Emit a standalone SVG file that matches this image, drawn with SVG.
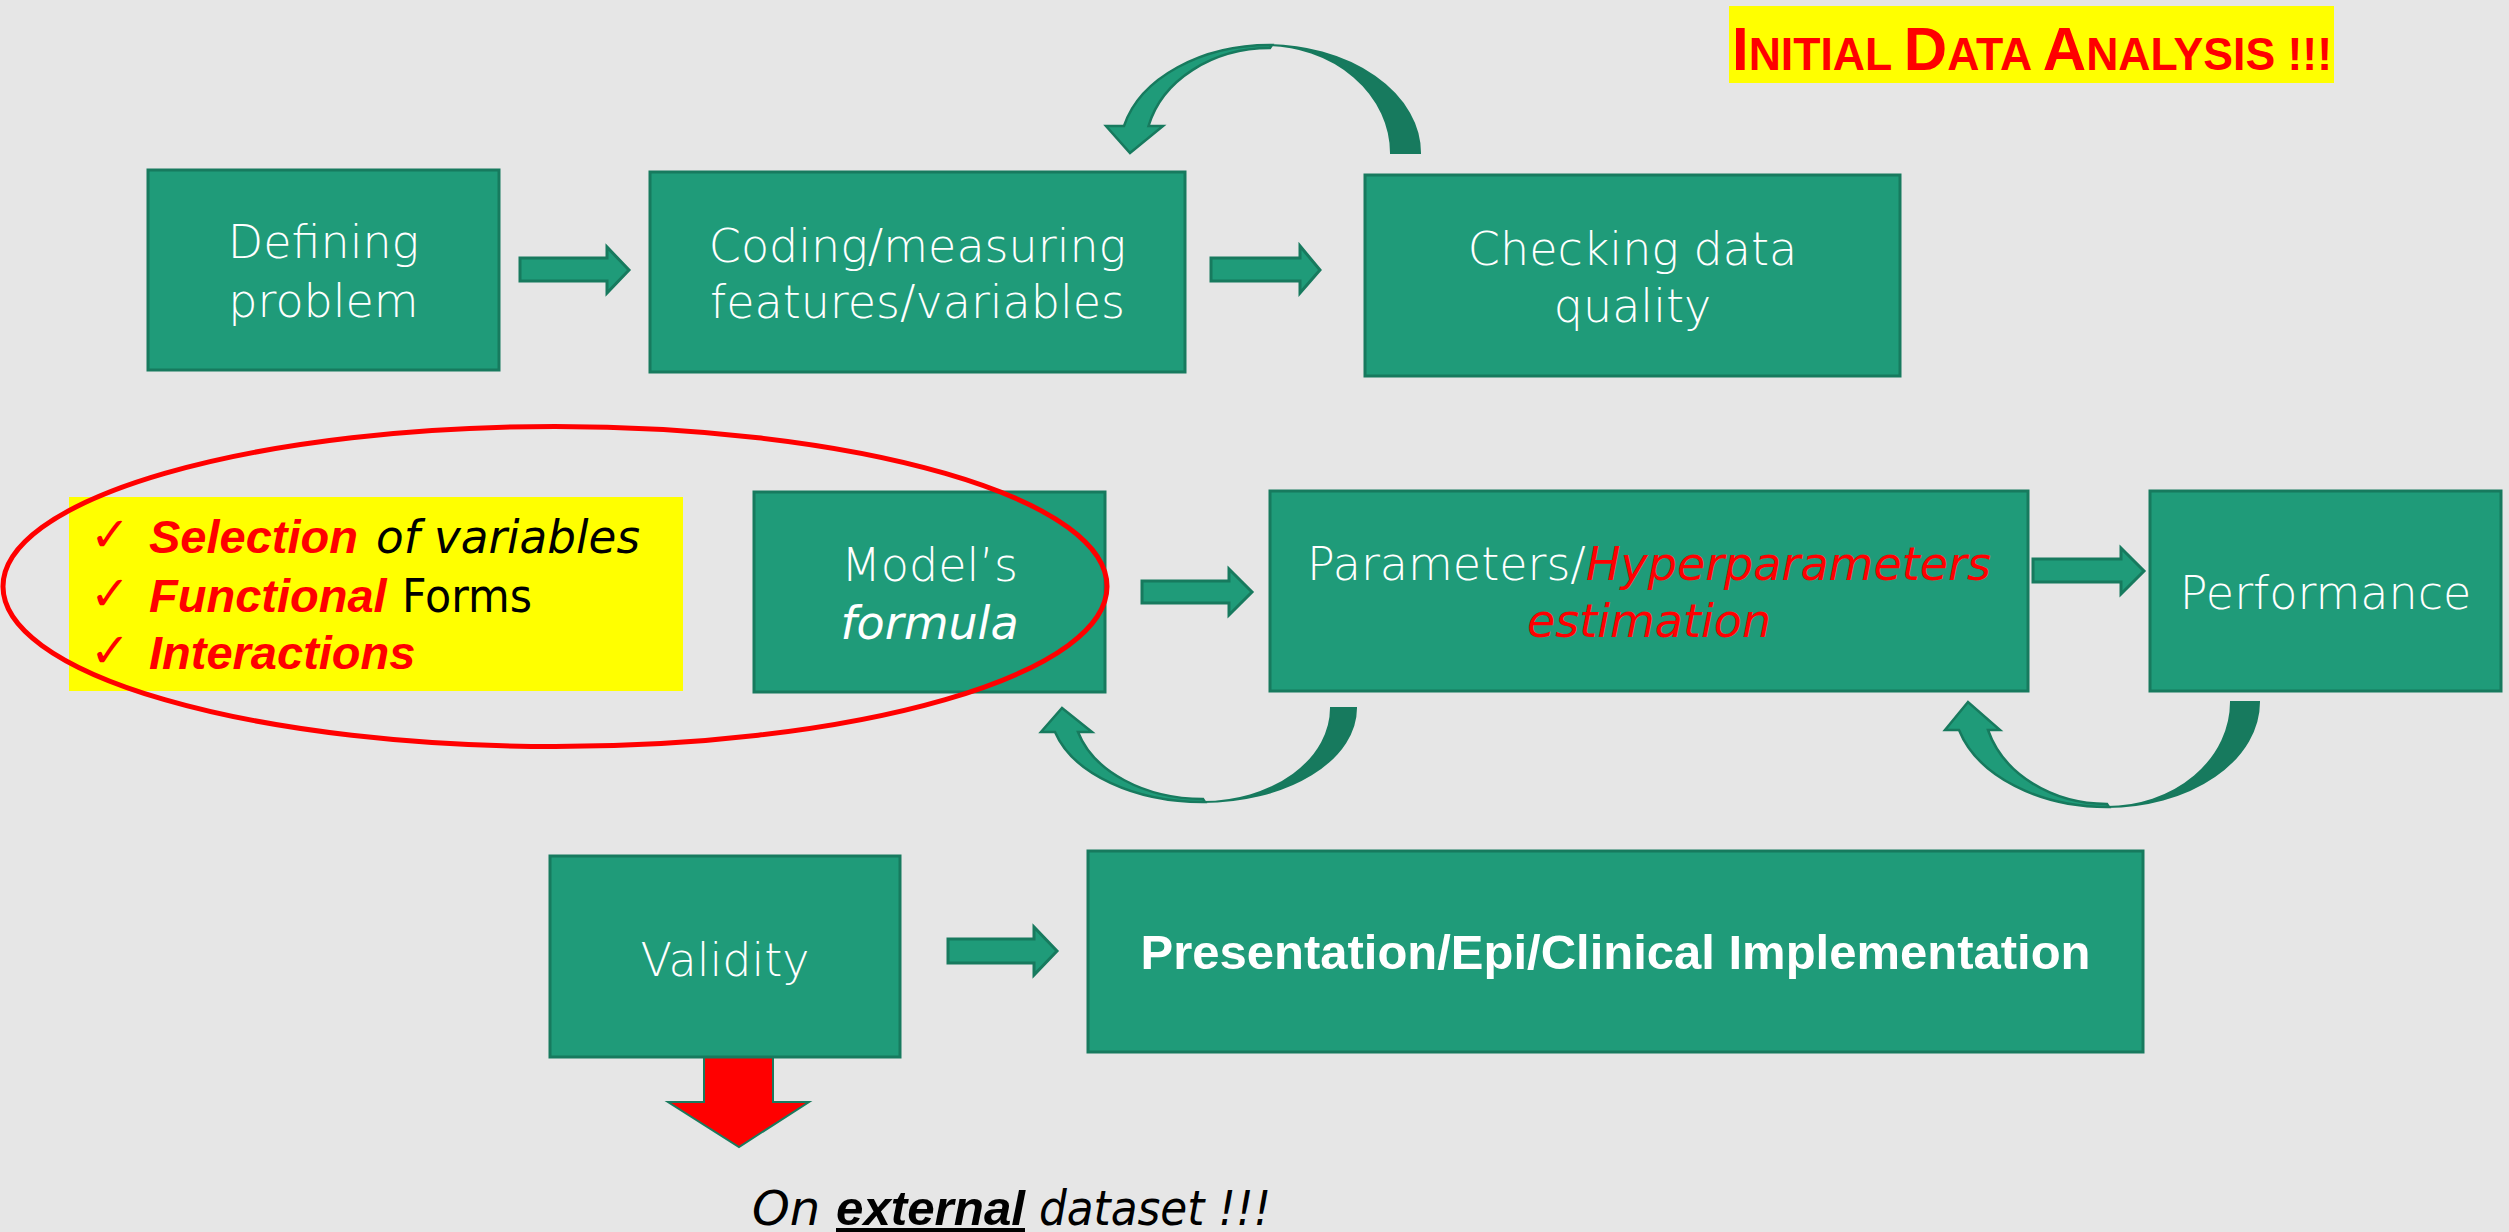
<svg xmlns="http://www.w3.org/2000/svg" width="2509" height="1232" viewBox="0 0 2509 1232">
  <defs>
    <style>
      .box{fill:#1f9b79;stroke:#177a5e;stroke-width:3}
      .blk{fill:#1f9b79;stroke:#177a5e;stroke-width:3;stroke-linejoin:miter}
      .dark{fill:#177a5e;stroke:#177a5e;stroke-width:2}
      .light{fill:#1f9b79;stroke:#177a5e;stroke-width:2.5;stroke-linejoin:miter}
      .lbl{font-family:"DejaVu Sans","Liberation Sans",sans-serif;font-size:46px;font-weight:300;fill:#ffffff;text-anchor:middle}
      .heavy{font-family:"Liberation Sans",Arial,sans-serif;font-weight:bold;font-size:48.5px}
      .hot{fill:#ff0000;font-style:italic}
      .li{font-family:"DejaVu Sans","Liberation Sans",sans-serif;font-size:47px;fill:#000000}
      .lb{font-family:"Liberation Sans",Arial,sans-serif;font-weight:bold;font-style:italic;fill:#ff0000}
      .tick{font-family:"DejaVu Sans",sans-serif;font-size:48px;fill:#ff0000}
    </style>
  </defs>

  <!-- slide background -->
  <rect x="0" y="0" width="2509" height="1232" fill="#e6e6e6"/>

  <!-- title banner -->
  <g id="title">
    <rect x="1729" y="6" width="605" height="77" fill="#ffff00"/>
    <text x="1732" y="70" textLength="600" lengthAdjust="spacingAndGlyphs" font-family="'Liberation Sans',Arial,sans-serif" font-weight="bold" font-size="46" fill="#ff0000"><tspan font-size="62">I</tspan>NITIAL <tspan font-size="62">D</tspan>ATA <tspan font-size="62">A</tspan>NALYSIS !!!</text>
  </g>

  <!-- checklist of model-formula choices -->
  <g id="checklist">
    <rect x="69" y="497" width="614" height="194" fill="#ffff00"/>
    <text class="tick" x="90" y="551">✓</text>
    <text class="tick" x="90" y="610">✓</text>
    <text class="tick" x="90" y="667">✓</text>
    <text class="li lb" x="149" y="553">Selection</text>
    <text class="li" x="376" y="553" font-style="italic" textLength="264" lengthAdjust="spacingAndGlyphs">of variables</text>
    <text class="li lb" x="149" y="612">Functional</text>
    <text class="li" x="402" y="612" textLength="130" lengthAdjust="spacingAndGlyphs">Forms</text>
    <text class="li lb" x="149" y="669">Interactions</text>
  </g>

  <!-- connectors -->
  <g id="connectors">
    <!-- straight block arrows -->
    <polygon class="blk" points="520,258 607,258 607,247 629,270 607,293 607,281 520,281"/>
    <polygon class="blk" points="1211,258 1300,258 1300,246 1320,270 1300,293 1300,281 1211,281"/>
    <polygon class="blk" points="1142,581 1229,581 1229,569 1252,592 1229,615 1229,603 1142,603"/>
    <polygon class="blk" points="2033,559 2121,559 2121,548 2144,571 2121,594 2121,582 2033,582"/>
    <polygon class="blk" points="948,939 1034,939 1034,927 1057,951 1034,975 1034,963 948,963"/>

    <!-- loop back: checking data quality -> coding -->
    <path class="dark" d="M1420,153 A155,108 0 0 0 1265,45 A126,108 0 0 1 1391,153 Z"/>
    <path class="light" d="M1124,126 L1106,126 L1130,153 L1163,126 L1148.5,126 A125,102 0 0 1 1270,48 L1272,45 A150,105 0 0 0 1124,126 Z"/>

    <!-- loop back: parameters -> model's formula -->
    <path class="dark" d="M1356,708 A153,94 0 0 1 1203,802 A128,94 0 0 0 1331,708 Z"/>
    <path class="light" d="M1055,732 L1041,732 L1062,708 L1092,732 L1078,732 A130,91 0 0 0 1203,799 L1205,802 A153,94 0 0 1 1055,732 Z"/>

    <!-- loop back: performance -> parameters -->
    <path class="dark" d="M2259,702 A152,105 0 0 1 2107,807 A124,105 0 0 0 2231,702 Z"/>
    <path class="light" d="M1959,730 L1945,730 L1968,702 L2000,730 L1988,730 A124,102 0 0 0 2107,804 L2109,807 A153.6,105 0 0 1 1959,730 Z"/>

    <!-- external validation arrow -->
    <polygon points="704,1057 773,1057 773,1102 809,1102 739,1147 668,1102 704,1102" fill="#ff0000" stroke="#1a7a5e" stroke-width="2"/>
  </g>

  <!-- nodes -->
  <g id="defining-problem">
    <rect class="box" x="148" y="170" width="351" height="200"/>
    <text class="lbl" x="323.5" y="258">Defining</text>
    <text class="lbl" x="323.5" y="317">problem</text>
  </g>

  <g id="coding-measuring">
    <rect class="box" x="650" y="172" width="535" height="200"/>
    <text class="lbl" x="917.5" y="262">Coding/measuring</text>
    <text class="lbl" x="917.5" y="318">features/variables</text>
  </g>

  <g id="checking-quality">
    <rect class="box" x="1365" y="175" width="535" height="201"/>
    <text class="lbl" x="1632.5" y="265">Checking data</text>
    <text class="lbl" x="1632.5" y="322">quality</text>
  </g>

  <g id="model-formula">
    <rect class="box" x="754" y="492" width="351" height="200"/>
    <text class="lbl" x="929.5" y="581">Model’s</text>
    <text class="lbl" x="929.5" y="639" font-style="italic">formula</text>
  </g>

  <g id="parameter-estimation">
    <rect class="box" x="1270" y="491" width="758" height="200"/>
    <text class="lbl" x="1649" y="580">Parameters/<tspan class="hot">Hyperparameters</tspan></text>
    <text class="lbl hot" x="1649" y="637">estimation</text>
  </g>

  <g id="performance">
    <rect class="box" x="2150" y="491" width="351" height="200"/>
    <text class="lbl" x="2325.5" y="609">Performance</text>
  </g>

  <g id="validity">
    <rect class="box" x="550" y="856" width="350" height="201"/>
    <text class="lbl" x="725" y="976">Validity</text>
  </g>

  <g id="implementation">
    <rect class="box" x="1088" y="851" width="1055" height="201"/>
    <text class="lbl heavy" x="1615.5" y="969" textLength="950" lengthAdjust="spacingAndGlyphs">Presentation/Epi/Clinical Implementation</text>
  </g>

  <!-- highlight ring around the checklist and model formula -->
  <ellipse cx="555" cy="586.5" rx="552" ry="160" fill="none" stroke="#ff0000" stroke-width="5"/>

  <!-- external dataset note -->
  <g id="external-note" font-family="'DejaVu Sans','Liberation Sans',sans-serif" font-size="48" font-style="italic" fill="#000000">
    <text x="752" y="1225">On</text>
    <text x="836" y="1225" font-family="'Liberation Sans',Arial,sans-serif" font-weight="bold" textLength="189" lengthAdjust="spacingAndGlyphs">external</text>
    <rect x="836" y="1228" width="189" height="4"/>
    <text x="1039" y="1225" textLength="232" lengthAdjust="spacingAndGlyphs">dataset !!!</text>
  </g>
</svg>
